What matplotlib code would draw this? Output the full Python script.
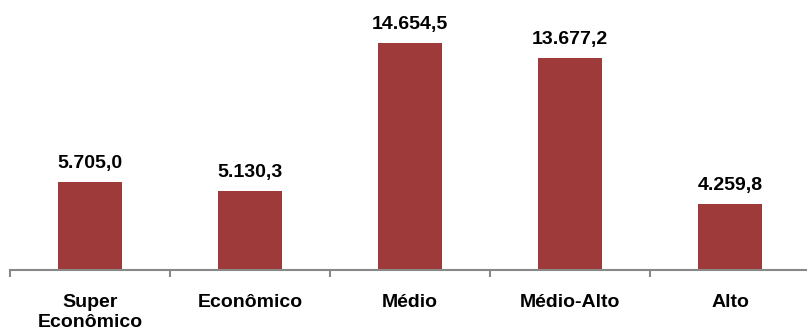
import matplotlib
matplotlib.use("Agg")
import matplotlib.pyplot as plt

categories = ["Super\nEconômico", "Econômico", "Médio", "Médio-Alto", "Alto"]
values = [5705.0, 5130.3, 14654.5, 13677.2, 4259.8]
value_labels = ["5.705,0", "5.130,3", "14.654,5", "13.677,2", "4.259,8"]

plt.rcParams['font.family'] = ['Liberation Sans', 'DejaVu Sans']

fig = plt.figure(figsize=(8.07, 3.36), dpi=100)
ax = fig.add_axes([10/807, 66/336, 800/807, 270/336])
x = list(range(len(categories)))
ax.bar(x, values, width=0.4, color="#9E3A3A")
ax.set_xlim(-0.5, 4.5)
ax.set_ylim(0, 14654.5 * 270 / 227)

for xi, v, lab in zip(x, values, value_labels):
    ax.annotate(lab, (xi, v), xytext=(0, 7), textcoords="offset points",
                ha="center", va="bottom", fontsize=14, fontweight="bold")

for s in ["top", "right", "left"]:
    ax.spines[s].set_visible(False)
ax.spines["bottom"].set_color("#888888")
ax.spines["bottom"].set_linewidth(1.5)
ax.set_yticks([])
ax.set_xticks([i - 0.5 for i in range(len(categories) + 1)], minor=False)
ax.set_xticklabels([])
ax.tick_params(axis="x", which="major", direction="out", length=5, width=1.5, color="#888888")
ax.set_xticks(x, minor=True)
ax.set_xticklabels(categories, minor=True, fontsize=14, fontweight="bold", linespacing=1.25)
ax.tick_params(axis="x", which="minor", length=0, pad=17)
for t in ax.get_xticklabels(minor=True):
    t.set_va("top")

fig.savefig("out.png", dpi=100)
